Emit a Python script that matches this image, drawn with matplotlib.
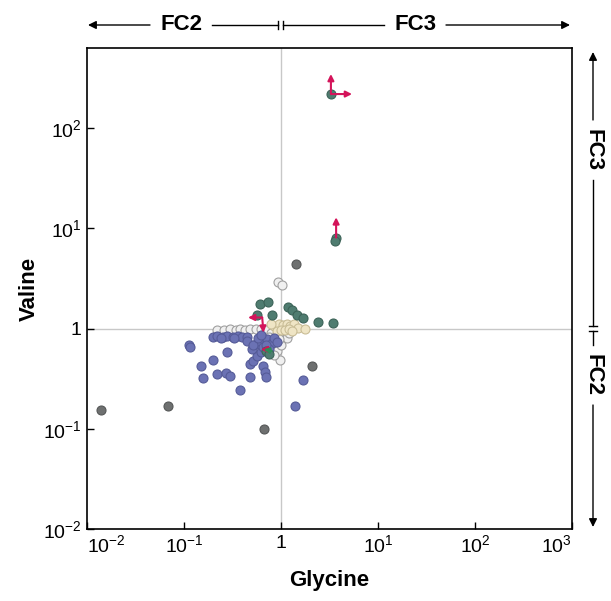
import matplotlib
matplotlib.use("Agg")
import matplotlib.pyplot as plt
from matplotlib.patches import FancyArrowPatch
from matplotlib.lines import Line2D
import numpy as np

plt.rcParams['font.family'] = ['Liberation Sans', 'DejaVu Sans']
plt.rcParams['mathtext.fontset'] = 'custom'
plt.rcParams['mathtext.rm'] = 'Liberation Sans'
plt.rcParams['mathtext.it'] = 'Liberation Sans:italic'
plt.rcParams['mathtext.bf'] = 'Liberation Sans:bold'

# ---------------- data ----------------
blue_x = [0.113, 0.115, 0.20, 0.22, 0.25, 0.28, 0.32, 0.36, 0.40, 0.45, 0.28, 0.20, 0.15, 0.157,
          0.22, 0.27, 0.30, 0.48, 0.38, 0.48, 0.52, 0.57, 0.62, 0.66, 0.68, 0.70, 0.55, 0.60,
          0.65, 0.72, 0.80, 0.50, 1.68, 1.38, 0.45, 0.52, 0.58, 0.75, 0.85, 0.24, 0.33, 0.62,
          0.70, 0.90]
blue_y = [0.68, 0.66, 0.83, 0.84, 0.83, 0.84, 0.83, 0.84, 0.83, 0.82, 0.59, 0.49, 0.42, 0.32,
          0.35, 0.36, 0.34, 0.33, 0.245, 0.44, 0.48, 0.53, 0.58, 0.42, 0.37, 0.33, 0.70, 0.75,
          0.66, 0.78, 0.72, 0.62, 0.31, 0.17, 0.75, 0.68, 0.80, 0.62, 0.80, 0.80, 0.81, 0.86,
          0.69, 0.74]
teal_x = [3.27, 3.7, 3.6, 0.61, 0.73, 1.18, 1.29, 1.45, 1.67, 0.80, 0.57, 2.4, 3.45, 0.70, 0.75]
teal_y = [219, 8.1, 7.4, 1.74, 1.86, 1.66, 1.55, 1.38, 1.29, 1.38, 1.38, 1.17, 1.15, 0.60, 0.56]
gray_x = [0.0139, 0.068, 0.67, 1.43, 2.1]
gray_y = [0.155, 0.17, 0.10, 4.4, 0.42]
white_x = [0.93, 1.02, 0.22, 0.26, 0.30, 0.34, 0.38, 0.43, 0.48, 0.55, 0.62, 0.70, 0.78, 0.97,
           1.05, 0.88, 0.80, 0.92, 1.10, 0.85, 0.75, 1.15, 1.00, 0.90, 1.20, 0.95]
white_y = [2.95, 2.75, 0.96, 0.97, 0.98, 0.97, 0.98, 0.97, 0.98, 0.99, 1.00, 0.97, 0.90, 0.49,
           0.85, 0.75, 0.70, 0.60, 0.95, 0.55, 0.82, 0.80, 0.68, 0.88, 0.90, 0.78]
beige_x = [0.85, 0.95, 1.05, 1.15, 1.25, 1.35, 1.5, 0.90, 1.00, 1.10, 1.20, 1.30, 1.75, 0.78]
beige_y = [1.05, 1.10, 1.08, 1.12, 1.05, 1.10, 1.02, 0.95, 0.97, 0.96, 0.98, 0.94, 1.00, 1.12]

# arrows on data: start (x, y) -> end (x, y)
red_arrow_x0 = [3.27, 3.27, 3.7, 0.64, 0.64, 0.77]
red_arrow_y0 = [219, 219, 8.1, 1.29, 1.29, 0.62]
red_arrow_x1 = [3.27, 5.4, 3.7, 0.457, 0.66, 0.62]
red_arrow_y1 = [347, 219, 12.9, 1.29, 0.91, 0.62]
green_arrow_x0 = [0.80]
green_arrow_y0 = [0.60]
green_arrow_x1 = [0.66]
green_arrow_y1 = [0.62]

xtick_vals = [1e-2, 1e-1, 1, 1e1, 1e2, 1e3]
xtick_labels = [r'$10^{-2}$', r'$10^{-1}$', '1', r'$10^{1}$', r'$10^{2}$', r'$10^{3}$']
ytick_vals = [1e-2, 1e-1, 1, 1e1, 1e2]
ytick_labels = [r'$10^{-2}$', r'$10^{-1}$', '1', r'$10^{1}$', r'$10^{2}$']

W, H = 611, 601
fig = plt.figure(figsize=(W / 100, H / 100), dpi=100)
L, R, T, B = 87, 572, 48, 529
ax = fig.add_axes([L / W, 1 - B / H, (R - L) / W, (B - T) / H])
ax.set_xscale('log')
ax.set_yscale('log')
ax.set_xlim(1e-2, 1e3)
ax.set_ylim(1e-2, 10 ** 2.8)

ax.axvline(1, color='#c8c8c8', lw=1, zorder=0)
ax.axhline(1, color='#c8c8c8', lw=1, zorder=0)

ms = 42
ax.scatter(white_x, white_y, s=ms, c='#f0f0f0', edgecolors='#a0a0a0', linewidths=0.8, zorder=2)
ax.scatter(beige_x, beige_y, s=ms, c='#efe5c5', edgecolors='#c9bd96', linewidths=0.8, zorder=2)
ax.scatter(blue_x, blue_y, s=ms, c='#6b72b4', edgecolors='#555b98', linewidths=0.8, zorder=3)
ax.scatter(teal_x, teal_y, s=ms, c='#4f7c70', edgecolors='#3c6358', linewidths=0.8, zorder=3)
ax.scatter(gray_x, gray_y, s=ms, c='#6e7070', edgecolors='#555757', linewidths=0.8, zorder=3)

for x0, y0, x1, y1 in zip(red_arrow_x0, red_arrow_y0, red_arrow_x1, red_arrow_y1):
    ax.annotate('', xy=(x1, y1), xytext=(x0, y0),
                arrowprops=dict(arrowstyle='-|>', color='#d4145a', lw=1.5,
                                mutation_scale=9, shrinkA=0, shrinkB=0), zorder=4)
for x0, y0, x1, y1 in zip(green_arrow_x0, green_arrow_y0, green_arrow_x1, green_arrow_y1):
    ax.annotate('', xy=(x1, y1), xytext=(x0, y0),
                arrowprops=dict(arrowstyle='-|>', color='#2e8b57', lw=1.5,
                                mutation_scale=8, shrinkA=0, shrinkB=0), zorder=4)

ax.set_xticks(xtick_vals)
ax.set_xticklabels(xtick_labels)
ax.set_yticks(ytick_vals)
ax.set_yticklabels(ytick_labels)
ax.minorticks_off()
ax.tick_params(direction='in', length=5, width=1, labelsize=14, pad=4)
xl = ax.get_xticklabels()
xl[0].set_horizontalalignment('left')
xl[-1].set_horizontalalignment('right')
for s in ax.spines.values():
    s.set_linewidth(1.2)
ax.set_xlabel('Glycine', fontsize=16, fontweight='bold', labelpad=10)
ax.set_ylabel('Valine', fontsize=16, fontweight='bold', labelpad=2)


def fx(px):
    return px / W


def fy(py):
    return 1 - py / H


def fline(x0, y0, x1, y1):
    fig.add_artist(Line2D([fx(x0), fx(x1)], [fy(y0), fy(y1)], transform=fig.transFigure,
                          color='black', lw=1))


def farrow(x0, y0, x1, y1):
    fig.add_artist(FancyArrowPatch((fx(x0), fy(y0)), (fx(x1), fy(y1)), transform=fig.transFigure,
                                   arrowstyle='-|>', mutation_scale=12, color='black', lw=1,
                                   shrinkA=0, shrinkB=0))


# top annotation
ty = 25
farrow(150, ty, 88, ty)
fline(212, ty, 278, ty)
fline(278, ty - 4, 278, ty + 4)
fline(283, ty - 4, 283, ty + 4)
fline(283, ty, 384, ty)
farrow(446, ty, 570, ty)
fig.text(fx(181), fy(ty), 'FC2', fontsize=16, fontweight='bold', ha='center', va='center')
fig.text(fx(415), fy(ty), 'FC3', fontsize=16, fontweight='bold', ha='center', va='center')

# right annotation
rx = 593
farrow(rx, 120, rx, 52)
fline(rx, 180, rx, 326)
fline(rx - 4, 326, rx + 4, 326)
fline(rx - 4, 331, rx + 4, 331)
fline(rx, 331, rx, 345)
farrow(rx, 405, rx, 527)
fig.text(fx(rx), fy(150), 'FC3', fontsize=16, fontweight='bold', ha='center', va='center',
         rotation=-90)
fig.text(fx(rx), fy(375), 'FC2', fontsize=16, fontweight='bold', ha='center', va='center',
         rotation=-90)

fig.savefig('out.png', dpi=100)
